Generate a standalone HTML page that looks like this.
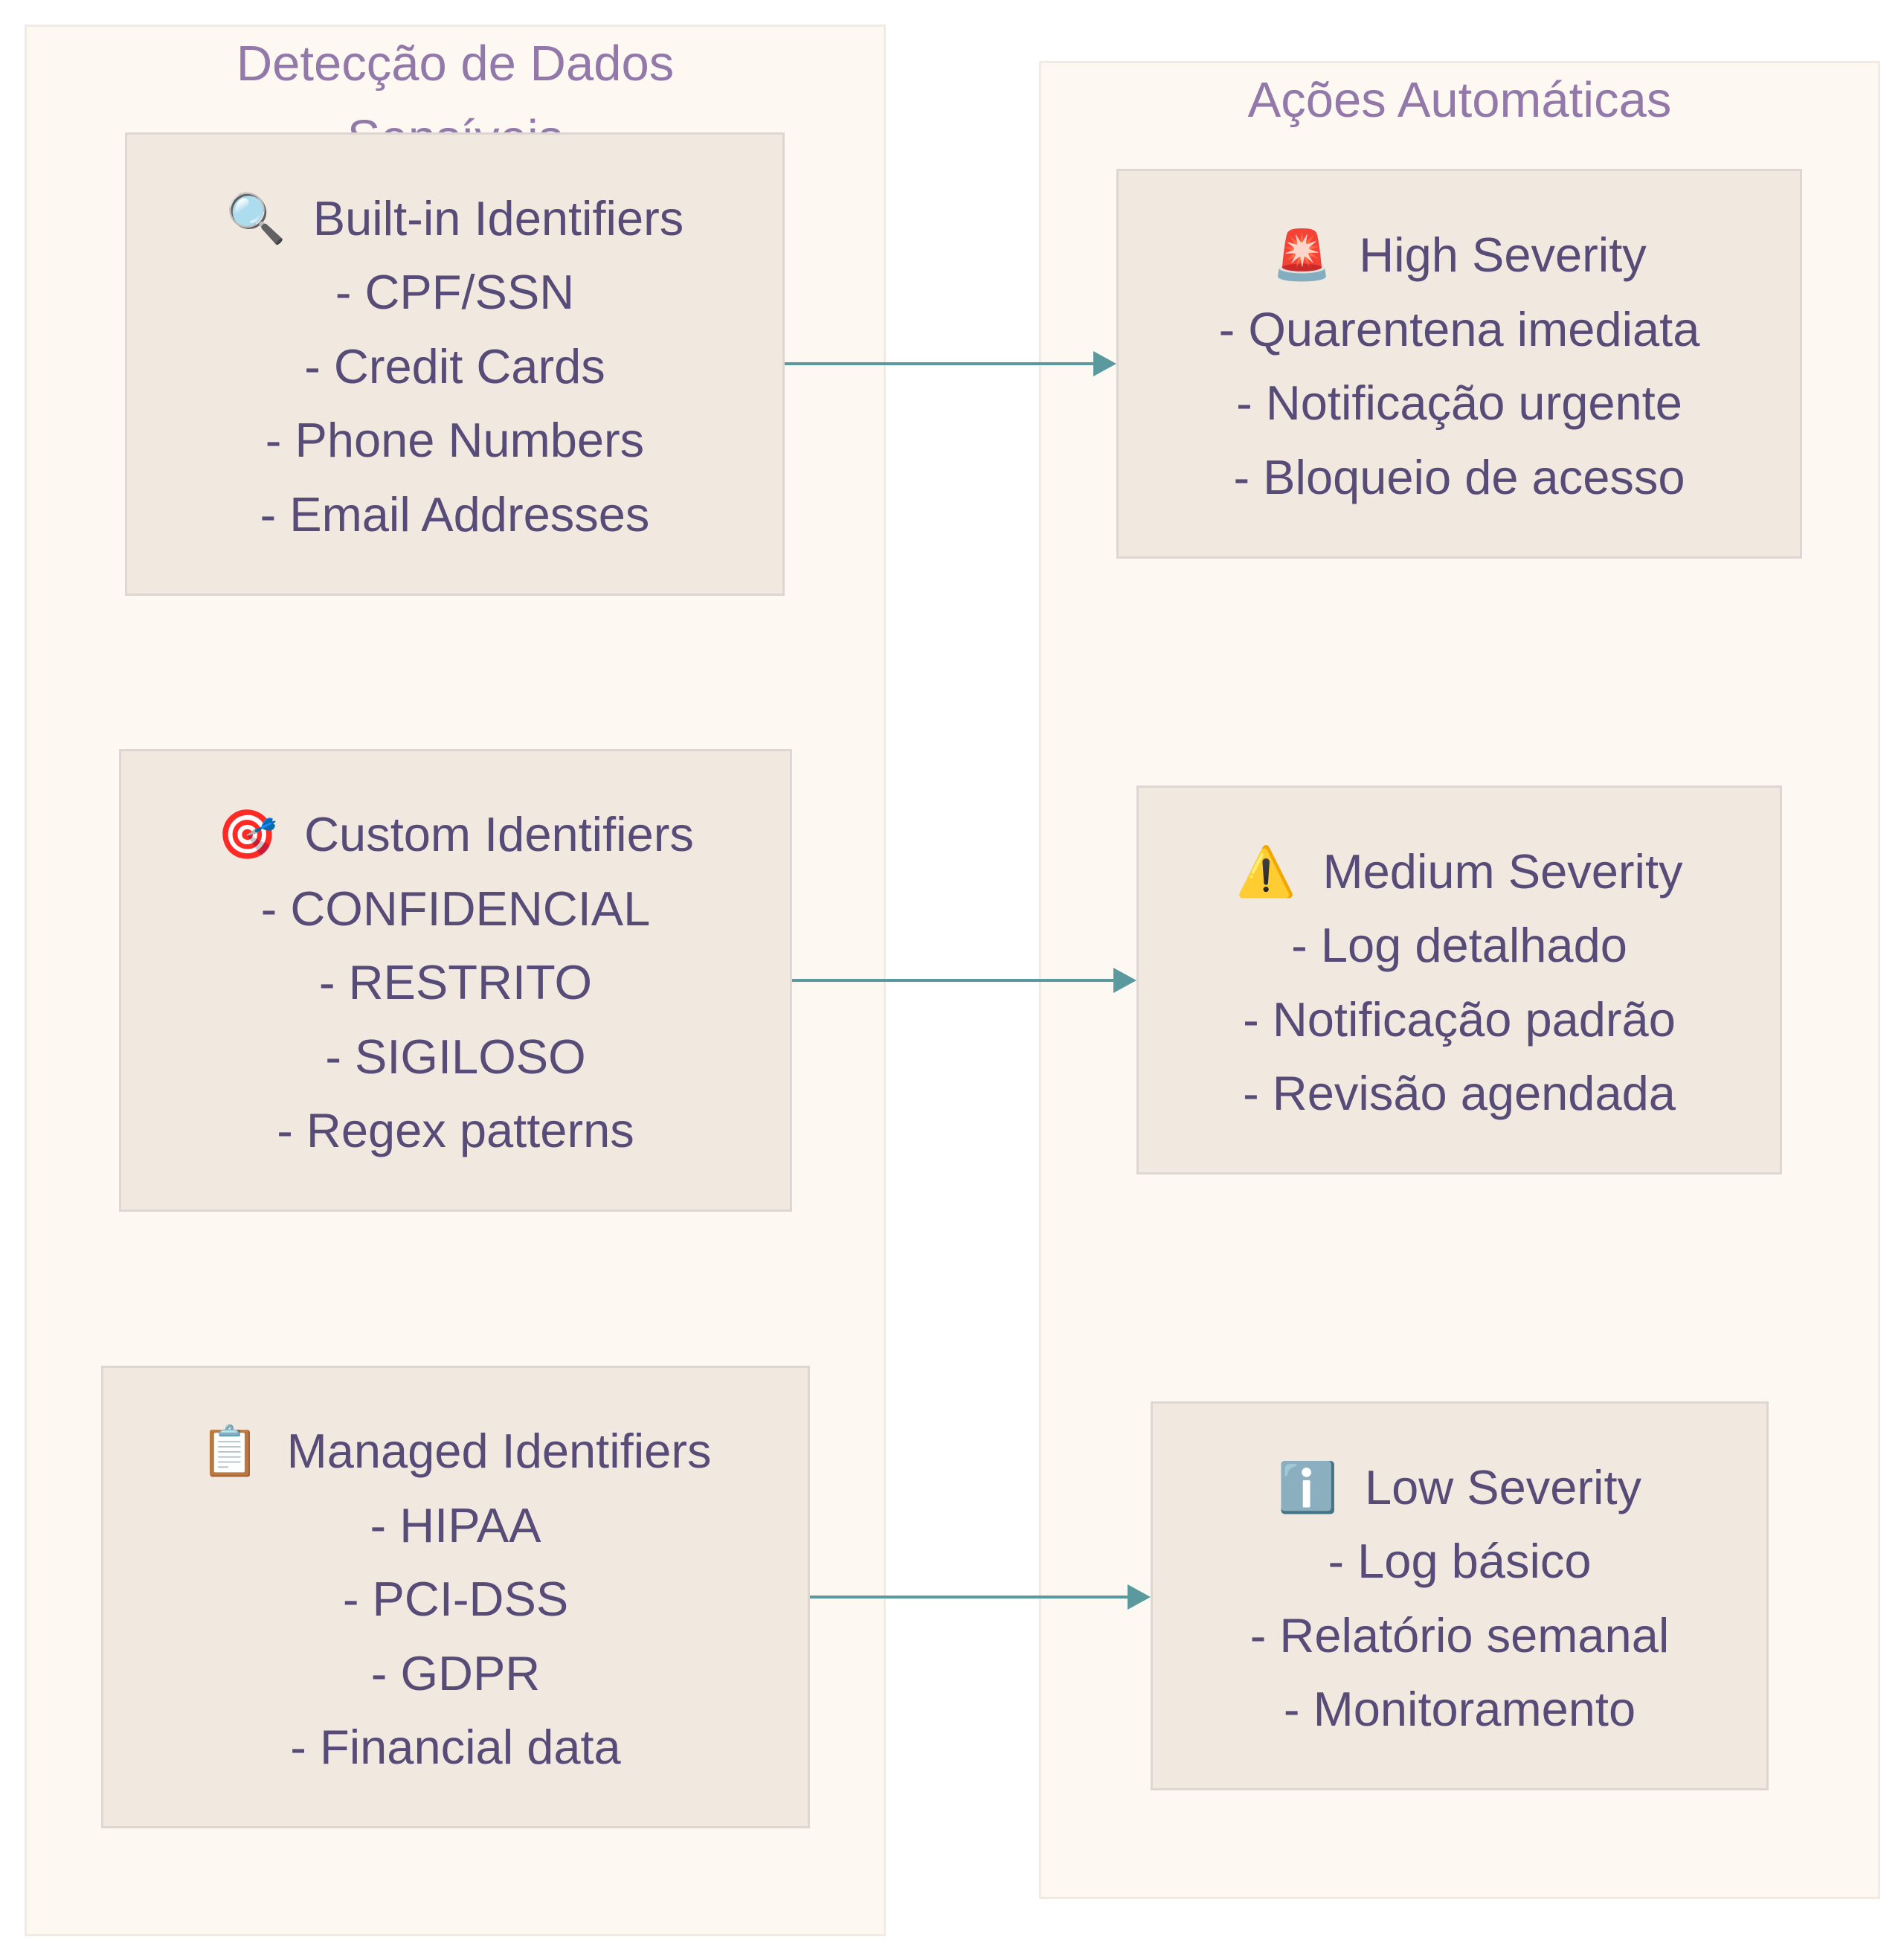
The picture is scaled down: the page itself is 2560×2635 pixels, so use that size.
<!DOCTYPE html>
<html><head><meta charset="utf-8"><style>
body{margin:0;width:2560px;height:2635px;background:#fff;position:relative;overflow:hidden;font-family:"Liberation Sans","DejaVu Sans",sans-serif}
.cl{position:absolute;background:#fdf8f2;border:3px solid #f2ebe4;box-sizing:border-box}
.t{position:absolute;color:#9279aa;font-size:67px;text-align:center;line-height:100px}
.n{position:absolute;background:#f1e8df;border:3px solid #ddd6d2;box-sizing:border-box;display:flex;align-items:center;justify-content:center;text-align:center;color:#574b78;font-size:65px;line-height:99.5px;padding-top:6px}
</style></head><body>
<div class="cl" style="left:33px;top:33px;width:1158px;height:2570px"></div>
<div class="t" style="left:33px;top:36px;width:1158px;">Detecção de Dados<br>Sensíveis</div>
<div class="cl" style="left:1397px;top:82px;width:1131px;height:2471px"></div>
<div class="t" style="left:1397px;top:85px;width:1131px;">Ações Automáticas</div>

<div class="n" style="left:168px;top:178px;width:887px;height:623px">🔍&nbsp; Built-in Identifiers<br>- CPF/SSN<br>- Credit Cards<br>- Phone Numbers<br>- Email Addresses</div>
<div class="n" style="left:160px;top:1007px;width:905px;height:622px">🎯&nbsp; Custom Identifiers<br>- CONFIDENCIAL<br>- RESTRITO<br>- SIGILOSO<br>- Regex patterns</div>
<div class="n" style="left:136px;top:1836px;width:953px;height:622px">📋&nbsp; Managed Identifiers<br>- HIPAA<br>- PCI-DSS<br>- GDPR<br>- Financial data</div>

<div class="n" style="left:1501px;top:227px;width:922px;height:524px">🚨&nbsp; High Severity<br>- Quarentena imediata<br>- Notificação urgente<br>- Bloqueio de acesso</div>
<div class="n" style="left:1528px;top:1056px;width:868px;height:523px">⚠️&nbsp; Medium Severity<br>- Log detalhado<br>- Notificação padrão<br>- Revisão agendada</div>
<div class="n" style="left:1547px;top:1884px;width:831px;height:523px">ℹ️&nbsp; Low Severity<br>- Log básico<br>- Relatório semanal<br>- Monitoramento</div>

<svg width="2560" height="2635" style="position:absolute;left:0;top:0">
<g stroke="#5a9a9f" stroke-width="4" fill="#5a9a9f">
<line x1="1055" y1="489" x2="1475" y2="489"/><polygon points="1470,472 1501,489 1470,506" stroke="none"/>
<line x1="1065" y1="1318" x2="1502" y2="1318"/><polygon points="1497,1301 1528,1318 1497,1335" stroke="none"/>
<line x1="1089" y1="2147" x2="1521" y2="2147"/><polygon points="1516,2130 1547,2147 1516,2164" stroke="none"/>
</g></svg>
</body></html>
